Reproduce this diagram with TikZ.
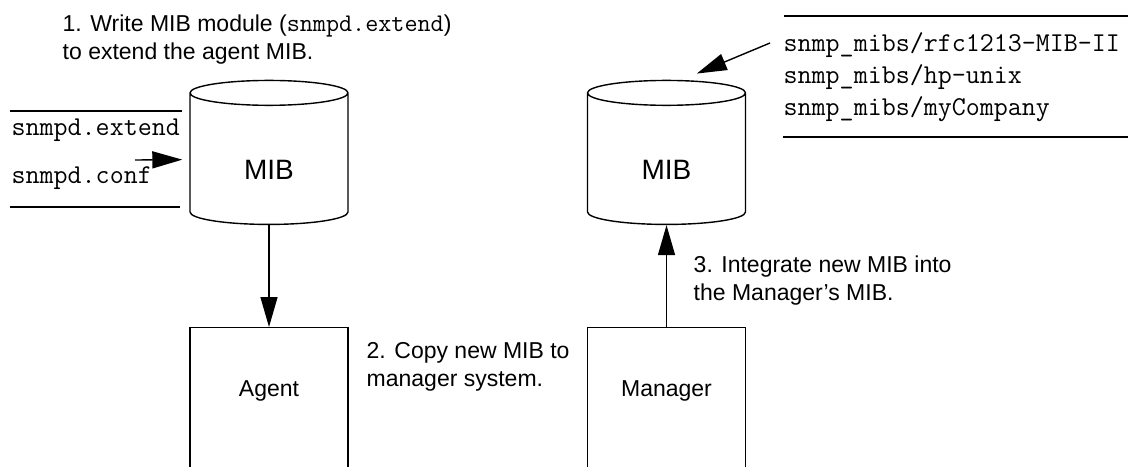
\documentclass[tikz,border=0pt]{standalone}
\usepackage{fontspec}
\setmainfont{Liberation Sans}
\usepackage{tikz}
\usetikzlibrary{
    arrows.meta,
    shapes.geometric
}
\tikzset{
    mib/.style={cylinder, draw, shape border rotate=90, aspect=0.5,
        minimum width=79pt, minimum height=72pt, inner sep=0pt,
        text height=20pt, font=\fontsize{14}{16}\selectfont},
    hostbox/.style={draw, anchor=north, minimum width=79pt, inner ysep=0pt,
        text height=34.6pt, text depth=45pt,
        font=\fontsize{11.5}{14}\selectfont},
    caption/.style={anchor=base west, align=left, inner sep=0pt,
        font=\fontsize{11.5}{14}\selectfont},
    filelist/.style={anchor=base west, align=left, inner sep=0pt},
}
\newcommand{\filename}[1]{{\ttfamily\fontsize{12.7}{14}\selectfont #1}}

\begin{document}
\begin{tikzpicture}[x=0.5pt, y=-0.5pt, line width=0.7pt,
        >={Triangle[length=15pt,width=8.5pt]}]
    \useasboundingbox (0,0) rectangle (1128,466);
    \clip (0,0) rectangle (1128,466);
    % the two MIBs
    \node[mib] (lmib) at (269,159) {MIB};
    \node[mib] (rmib) at (666.5,159) {MIB};
    % agent and manager systems
    \node[hostbox] (agent) at (269,327) {Agent};
    \node[hostbox] (manager) at (666.5,327) {Manager};
    % files on each side (anchored on the last line)
    \node[filelist, font=\ttfamily\fontsize{13.6}{24}\selectfont] (agentfiles) at (11,183)
        {snmpd.extend\\snmpd.conf};
    \draw (10,111) -- (182,111);
    \draw (10,207) -- (180,207);
    \node[filelist, font=\ttfamily\fontsize{13.6}{16}\selectfont] (mgrfiles) at (783,115)
        {snmp\_mibs/rfc1213-MIB-II\\snmp\_mibs/hp-unix\\snmp\_mibs/myCompany};
    \draw (784,16) -- (1128,16);
    \draw (783,137) -- (1128,137);
    \coordinate (extin) at (135,160);
    \coordinate (mibsin) at (770,43);
    % steps
    \node[caption] (step1) at (62,59.5)
        {1. Write MIB module (\filename{snmpd.extend})\\to extend the agent MIB.};
    \node[caption] (step2) at (366,386) {2. Copy new MIB to\\manager system.};
    \node[caption] (step3) at (693,300) {3. Integrate new MIB into\\the Manager’s MIB.};
    \draw[->] (lmib) -- (agent);
    \draw[->] (manager) -- (rmib);
    \draw[->, shorten >=3.5pt] (extin) -- (lmib);
    \draw[->, shorten >=8pt] (mibsin) -- ([xshift=7.75pt]rmib.north);
\end{tikzpicture}
\end{document}
